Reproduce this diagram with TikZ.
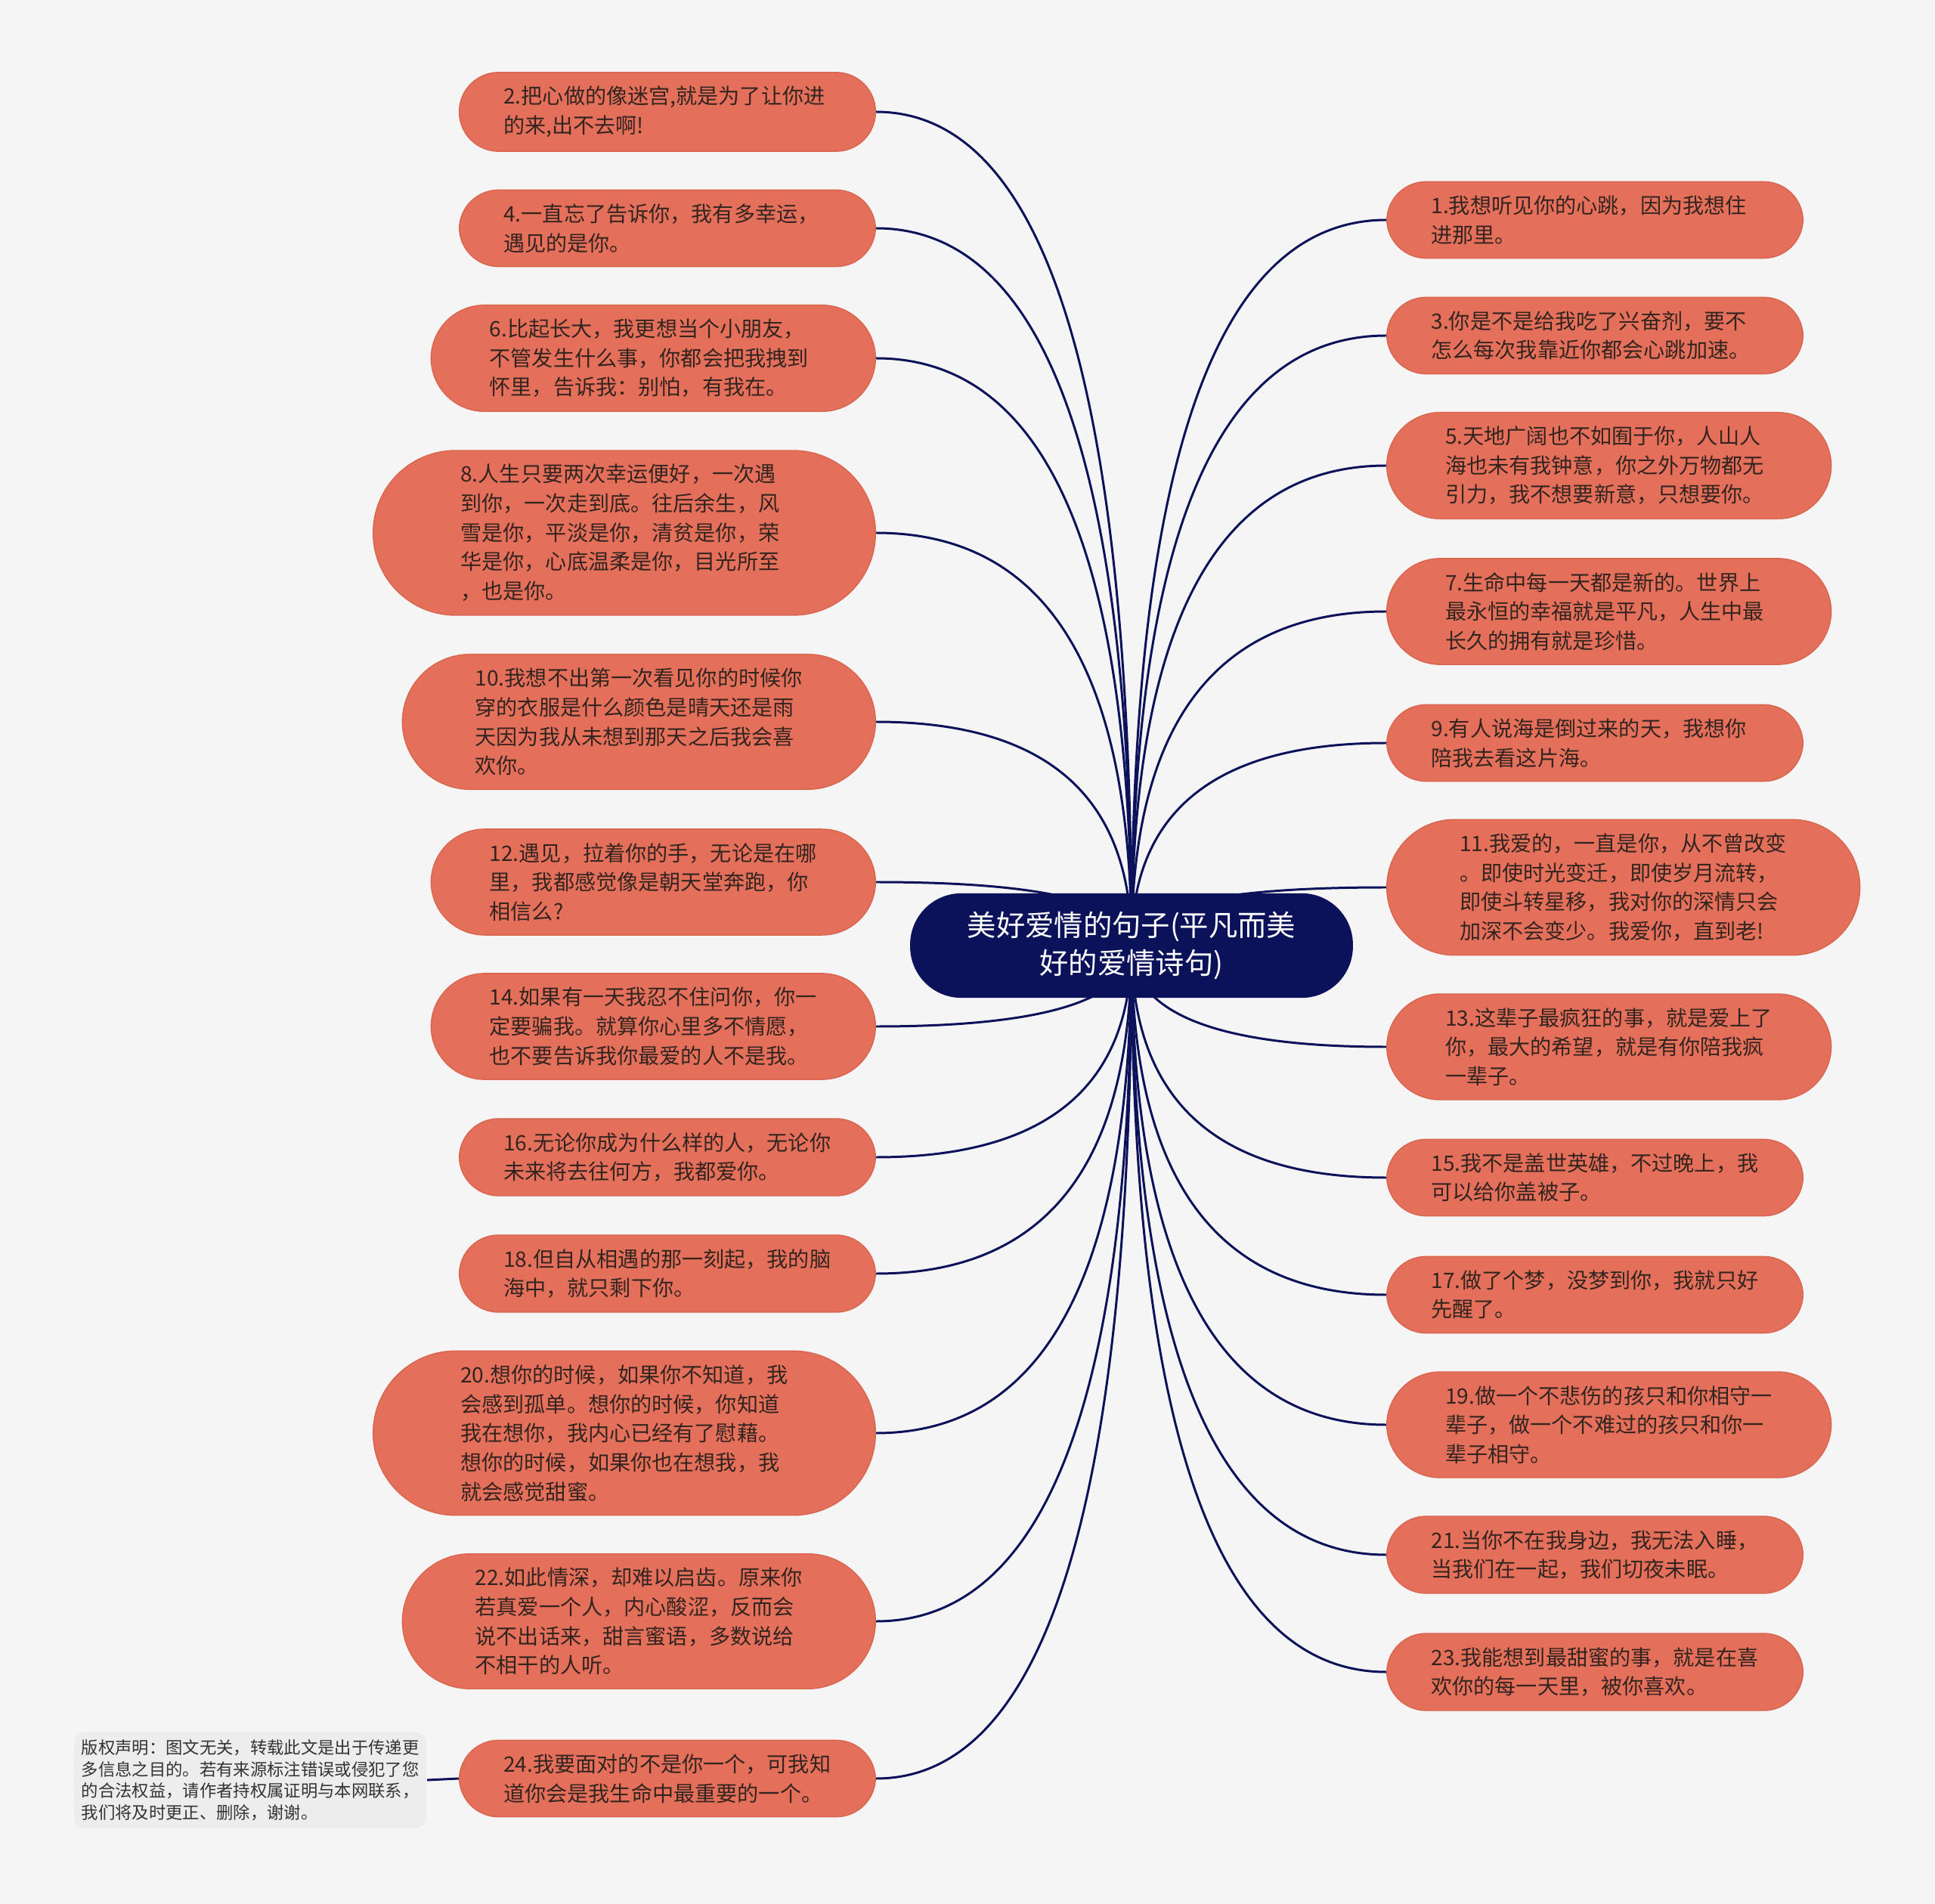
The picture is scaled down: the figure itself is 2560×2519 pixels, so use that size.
\documentclass[tikz,border=0pt]{standalone}
\usepackage{fontspec}
\setmainfont{Noto Sans CJK SC}
\usetikzlibrary{backgrounds,calc}

\definecolor{paper}{HTML}{F5F5F5}
\definecolor{leaffill}{HTML}{E4705B}
\definecolor{leafline}{HTML}{D9654F}
\definecolor{leaftext}{HTML}{33241F}
\definecolor{navy}{HTML}{0B1259}
\definecolor{notefill}{HTML}{EDEDED}
\definecolor{notetext}{HTML}{333333}

\tikzset{
  root/.style={rectangle, rounded corners=19.3pt, fill=navy, text=white, align=center,
    font=\fontsize{10.9pt}{14.4pt}\selectfont, inner xsep=21.5pt, inner ysep=6.8pt},
  leaf/.style={rectangle, rounded corners=#1, fill=leaffill, draw=leafline, line width=0.4pt,
    text=leaftext, align=left, text width=4.33cm, font=\fontsize{8pt}{11pt}\selectfont,
    inner xsep={#1+1.9pt}, inner ysep=5.2pt},
  note/.style={rectangle, rounded corners=4pt, fill=notefill, text=notetext,
    align=left, font=\fontsize{6.35pt}{8.1pt}\selectfont,
    inner xsep=2.8pt, inner ysep=2.9pt},
  link/.style={draw=navy, line width=0.85pt},
}

\begin{document}
\begin{tikzpicture}[x=0.01cm, y=-0.01cm]
\useasboundingbox (0,0) rectangle (2560,2519);

% centre
\node[root] (root) at (1497,1251) {美好爱情的句子(平凡而美\\好的爱情诗句)};

% left side
\node[leaf=14.8pt, anchor=east] (l2) at (1159,148) {2.把心做的像迷宫,就是为了让你进\\的来,出不去啊!};
\node[leaf=14.8pt, anchor=east] (l4) at (1159,302) {4.一直忘了告诉你，我有多幸运，\\遇见的是你。};
\node[leaf=20.1pt, anchor=east] (l6) at (1159,474) {6.比起长大，我更想当个小朋友，\\不管发生什么事，你都会把我拽到\\怀里，告诉我：别怕，有我在。};
\node[leaf=31pt, anchor=east] (l8) at (1159,705) {8.人生只要两次幸运便好，一次遇\\到你，一次走到底。往后余生，风\\雪是你，平淡是你，清贫是你，荣\\华是你，心底温柔是你，目光所至\\，也是你。};
\node[leaf=25.5pt, anchor=east] (l10) at (1159,955) {10.我想不出第一次看见你的时候你\\穿的衣服是什么颜色是晴天还是雨\\天因为我从未想到那天之后我会喜\\欢你。};
\node[leaf=20.1pt, anchor=east] (l12) at (1159,1167) {12.遇见，拉着你的手，无论是在哪\\里，我都感觉像是朝天堂奔跑，你\\相信么?};
\node[leaf=20.1pt, anchor=east] (l14) at (1159,1358) {14.如果有一天我忍不住问你，你一\\定要骗我。就算你心里多不情愿，\\也不要告诉我你最爱的人不是我。};
\node[leaf=14.8pt, anchor=east] (l16) at (1159,1531) {16.无论你成为什么样的人，无论你\\未来将去往何方，我都爱你。};
\node[leaf=14.8pt, anchor=east] (l18) at (1159,1685) {18.但自从相遇的那一刻起，我的脑\\海中，就只剩下你。};
\node[leaf=31pt, anchor=east] (l20) at (1159,1896) {20.想你的时候，如果你不知道，我\\会感到孤单。想你的时候，你知道\\我在想你，我内心已经有了慰藉。\\想你的时候，如果你也在想我，我\\就会感觉甜蜜。};
\node[leaf=25.5pt, anchor=east] (l22) at (1159,2145) {22.如此情深，却难以启齿。原来你\\若真爱一个人，内心酸涩，反而会\\说不出话来，甜言蜜语，多数说给\\不相干的人听。};
\node[leaf=14.8pt, anchor=east] (l24) at (1159,2353) {24.我要面对的不是你一个，可我知\\道你会是我生命中最重要的一个。};

% right side
\node[leaf=14.8pt, anchor=west] (r1) at (1834,291) {1.我想听见你的心跳，因为我想住\\进那里。};
\node[leaf=14.8pt, anchor=west] (r3) at (1834,444) {3.你是不是给我吃了兴奋剂，要不\\怎么每次我靠近你都会心跳加速。};
\node[leaf=20.1pt, anchor=west] (r5) at (1834,616) {5.天地广阔也不如囿于你，人山人\\海也未有我钟意，你之外万物都无\\引力，我不想要新意，只想要你。};
\node[leaf=20.1pt, anchor=west] (r7) at (1834,809) {7.生命中每一天都是新的。世界上\\最永恒的幸福就是平凡，人生中最\\长久的拥有就是珍惜。};
\node[leaf=14.8pt, anchor=west] (r9) at (1834,983) {9.有人说海是倒过来的天，我想你\\陪我去看这片海。};
\node[leaf=25.5pt, anchor=west] (r11) at (1834,1174) {11.我爱的，一直是你，从不曾改变\\。即使时光变迁，即使岁月流转，\\即使斗转星移，我对你的深情只会\\加深不会变少。我爱你，直到老!};
\node[leaf=20.1pt, anchor=west] (r13) at (1834,1385) {13.这辈子最疯狂的事，就是爱上了\\你，最大的希望，就是有你陪我疯\\一辈子。};
\node[leaf=14.8pt, anchor=west] (r15) at (1834,1558) {15.我不是盖世英雄，不过晚上，我\\可以给你盖被子。};
\node[leaf=14.8pt, anchor=west] (r17) at (1834,1713) {17.做了个梦，没梦到你，我就只好\\先醒了。};
\node[leaf=20.1pt, anchor=west] (r19) at (1834,1885) {19.做一个不悲伤的孩只和你相守一\\辈子，做一个不难过的孩只和你一\\辈子相守。};
\node[leaf=14.8pt, anchor=west] (r21) at (1834,2057) {21.当你不在我身边，我无法入睡，\\当我们在一起，我们切夜未眠。};
\node[leaf=14.8pt, anchor=west] (r23) at (1834,2212) {23.我能想到最甜蜜的事，就是在喜\\欢你的每一天里，被你喜欢。};

% disclaimer
\node[note, anchor=east] (note) at (565,2355) {版权声明：图文无关，转载此文是出于传递更\\多信息之目的。若有来源标注错误或侵犯了您\\的合法权益，请作者持权属证明与本网联系，\\我们将及时更正、删除，谢谢。};

\begin{pgfonlayer}{background}
  \fill[paper] (0,0) rectangle (2560,2519);
  \foreach \i in {2,4,...,24} {
    \coordinate (k) at (root.center |- l\i.east);
    \draw[link] (root.center) .. controls ($(root.center)!.667!(k)$) and ($(l\i.east)!.667!(k)$) .. (l\i.east);
  }
  \foreach \i in {1,3,...,23} {
    \coordinate (k) at (root.center |- r\i.west);
    \draw[link] (root.center) .. controls ($(root.center)!.667!(k)$) and ($(r\i.west)!.667!(k)$) .. (r\i.west);
  }
  \draw[link] (note.east) -- (l24.west);
\end{pgfonlayer}
\end{tikzpicture}
\end{document}
